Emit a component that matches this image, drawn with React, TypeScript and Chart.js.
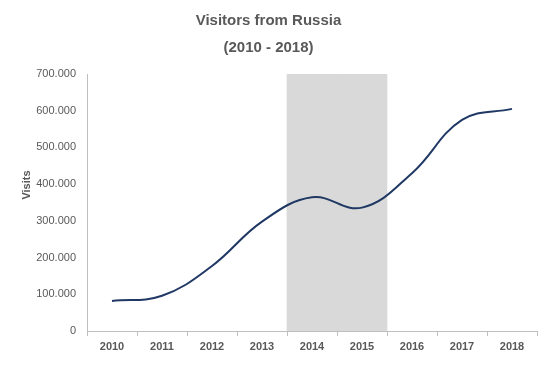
import React, { useEffect, useRef } from "react";
import { Chart, registerables } from "chart.js";

Chart.register(...registerables);

const categories = ["2010", "2011", "2012", "2013", "2014", "2015", "2016", "2017", "2018"];
const visits = [82000, 96000, 177000, 298000, 364000, 336000, 430000, 575000, 605000];
const highlight = [null, null, null, null, 700000, 700000, null, null, null];
const titleLines = ["Visitors from Russia", "(2010 - 2018)"];
const yTitle = "Visits";

const yTitlePlugin = {
  id: "yTitlePlugin",
  afterDraw(chart: any) {
    const ctx = chart.ctx;
    ctx.save();
    ctx.translate(27, 185);
    ctx.rotate(-Math.PI / 2);
    ctx.font = "bold 11px 'Liberation Sans', Arial, sans-serif";
    ctx.fillStyle = "#595959";
    ctx.textAlign = "center";
    ctx.textBaseline = "middle";
    ctx.fillText(yTitle, 0, 0);
    ctx.restore();
  },
};

export default function App() {
  const ref = useRef<HTMLCanvasElement>(null);
  useEffect(() => {
    const chart = new Chart(ref.current!, {
      data: {
        labels: categories,
        datasets: [
          {
            type: "line",
            data: visits,
            borderColor: "#203864",
            borderWidth: 2,
            pointRadius: 0,
            tension: 0.4,
            fill: false,
            order: 0,
          } as any,
          {
            type: "bar",
            data: highlight,
            backgroundColor: "#d9d9d9",
            barPercentage: 1,
            categoryPercentage: 1,
            order: 1,
          } as any,
        ],
      },
      options: {
        animation: false,
        responsive: false,
        maintainAspectRatio: false,
        layout: { padding: { left: 0, right: 22, top: 0, bottom: 0 } },
        plugins: {
          legend: { display: false },
          tooltip: { enabled: false },
          title: {
            display: true,
            text: titleLines,
            color: "#595959",
            font: { family: "'Liberation Sans', Arial, sans-serif", size: 15, weight: "bold", lineHeight: 1.8 },
            padding: { top: 7, bottom: 13 },
          },
        },
        scales: {
          x: {
            offset: true,
            grid: {
              offset: true,
              drawOnChartArea: false,
              color: "#bfbfbf",
              tickLength: 5,
            },
            border: { color: "#bfbfbf" },
            ticks: {
              color: "#595959",
              font: { family: "'Liberation Sans', Arial, sans-serif", size: 11, weight: "bold" },
              padding: 4,
            },
            afterFit(scale: any) {
              scale.height = 39;
            },
          },
          y: {
            min: 0,
            max: 700000,
            grid: { display: false, tickLength: 0 },
            border: { color: "#bfbfbf" },
            ticks: {
              stepSize: 100000,
              color: "#595959",
              font: { family: "'Liberation Sans', Arial, sans-serif", size: 11 },
              padding: 11,
              callback: (v: any) => (v === 0 ? "0" : Number(v).toLocaleString("de-DE")),
            },
            afterFit(scale: any) {
              scale.width = 87;
            },
          },
        },
      },
      plugins: [yTitlePlugin],
    });
    return () => chart.destroy();
  }, []);
  return (
    <div style={{ position: "fixed", left: 0, top: 0, width: 559, height: 370, background: "#fff" }}>
      <canvas ref={ref} width={559} height={370} style={{ width: 559, height: 370 }} />
    </div>
  );
}
